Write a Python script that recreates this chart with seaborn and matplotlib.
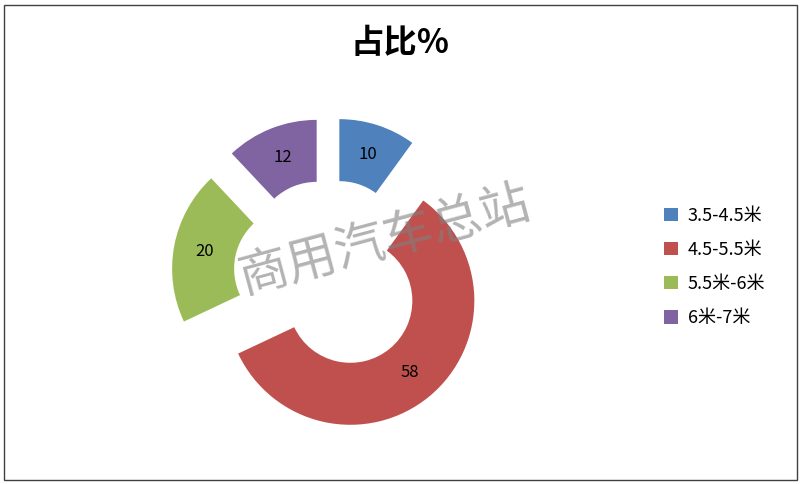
import matplotlib
matplotlib.use("Agg")
import numpy as np
import matplotlib.pyplot as plt
import seaborn as sns
from matplotlib.patches import Rectangle, Patch

# -----------------------------
# Data
# -----------------------------
categories = ["3.5-4.5米", "4.5-5.5米", "5.5米-6米", "6米-7米"]
shares = [10, 58, 20, 12]
colors = ["#4F81BD", "#C0504D", "#9BBB59", "#8064A2"]

sns.set_style("white")
plt.rcParams['font.family'] = ['Noto Sans CJK SC', 'DejaVu Sans']
plt.rcParams['text.color'] = 'black'

fig = plt.figure(figsize=(8.01, 4.84), dpi=100)
ax = fig.add_axes([0, 0, 1, 1])

wedges, texts = ax.pie(
    shares,
    colors=colors,
    startangle=90,
    counterclock=False,
    explode=[0.27] * len(shares),
    radius=1.0,
    wedgeprops=dict(width=0.5, linewidth=0),
)

# value labels in the middle of each ring segment
for w, v in zip(wedges, shares):
    ang = np.deg2rad((w.theta1 + w.theta2) / 2)
    cx, cy = w.center
    ax.text(cx + 0.75 * np.cos(ang), cy + 0.75 * np.sin(ang), str(v),
            ha="center", va="center", fontsize=12, color="black")

# place the pie the same way as the reference (center ~ (329, 275) px, R ~ 124 px)
ax.set_xlim(-329 / 124, (801 - 329) / 124)
ax.set_ylim(-(484 - 275) / 124, 275 / 124)
ax.set_aspect("auto")
ax.axis("off")

fig.text(0.5, 1 - 44 / 484, "占比%", ha="center", va="center",
         fontsize=24, fontweight="bold", color="black")

handles = [Patch(facecolor=c, edgecolor="none") for c in colors]
fig.legend(handles, categories, loc="center left",
           bbox_to_anchor=(648 / 801, 1 - 267 / 484), frameon=False,
           fontsize=13, handlelength=0.75, handleheight=0.75,
           handletextpad=0.55, labelspacing=0.9, labelcolor="black")

# watermark
fig.text(385 / 801, 1 - 240 / 484, "商用汽车总站", ha="center", va="center",
         fontsize=36, color="#808080", alpha=0.6, rotation=15,
         fontweight="light")

fig.patches.append(Rectangle((4 / 801, 4 / 484), 793 / 801, 475 / 484,
                             transform=fig.transFigure, fill=False,
                             edgecolor="#404040", linewidth=1))

fig.savefig("out.png", dpi=100)
